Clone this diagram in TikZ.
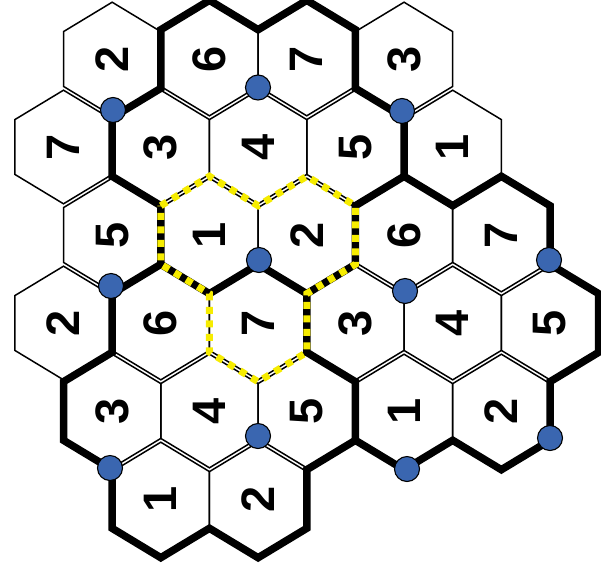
\documentclass[tikz,border=0pt]{standalone}
\usepackage{fontspec}
\setmainfont{Liberation Sans}
\usetikzlibrary{calc}
\definecolor{dotblue}{RGB}{58,102,176}
\definecolor{hlyellow}{RGB}{246,236,0}
\begin{document}
\begin{tikzpicture}[x=1pt,y=-1pt,
  hexline/.style={line width=1.5pt, black, line join=miter},
  boundary/.style={line width=7.5pt, black, line join=miter, miter limit=2},
  highlight/.style={line width=7pt, hlyellow, dash pattern=on 7pt off 6.5pt},
  digit/.style={font=\fontsize{47}{47}\selectfont\bfseries, rotate=90, inner sep=0pt},
  vdot/.style={circle, minimum size=25pt, inner sep=0pt, fill=dotblue, draw=black, line width=1.1pt}]
\fill[white] (0,0) rectangle (601,579);
\useasboundingbox (0,0) rectangle (601,579);
\clip (0,0) rectangle (601,579);
% lattice vertices
\foreach \k in {0,...,12} {
  \foreach \j in {0,...,13} {
    \pgfmathsetmacro\vx{14.85+48.65*\k}
    \pgfmathsetmacro\vy{isodd(\j) ? 44*\j-14.3 : 0.3+44*\j}
    \coordinate (v\k-\j) at (\vx,\vy);
  }
}
% hexagons with digits
\foreach \k/\r/\t in {2/1/2, 4/1/6, 6/1/7, 8/1/3,
                      1/2/7, 3/2/3, 5/2/4, 7/2/5, 9/2/1,
                      2/3/5, 4/3/1, 6/3/2, 8/3/6, 10/3/7,
                      1/4/2, 3/4/6, 5/4/7, 7/4/3, 9/4/4, 11/4/5,
                      2/5/3, 4/5/4, 6/5/5, 8/5/1, 10/5/2,
                      3/6/1, 5/6/2} {
  \pgfmathsetmacro\cx{14.85+48.65*\k}
  \pgfmathsetmacro\cy{59+88*(\r-1)}
  \node[digit] (h\r-\k) at (\cx,\cy) {\t};
  \draw[hexline] (h\r-\k.center) +(0,-56.8) -- +(48.65,-27.4) -- +(48.65,27.4)
     -- +(0,56.8) -- +(-48.65,27.4) -- +(-48.65,-27.4) -- cycle;
}
% thick boundaries
\draw[boundary] (v3-6) -- (v3-5) -- (v2-4) -- (v2-3) -- (v3-2) -- (v3-1) -- (v4-0)
  -- (v5-1) -- (v6-0) -- (v7-1) -- (v7-2) -- (v8-3) -- (v8-4) -- (v9-5) -- (v10-4)
  -- (v11-5) -- (v11-6) -- (v12-7) -- (v12-8) -- (v11-9) -- (v11-10) -- (v10-11)
  -- (v9-10) -- (v8-11) -- (v7-10) -- (v6-11) -- (v6-12) -- (v5-13) -- (v4-12)
  -- (v3-13) -- (v2-12) -- (v2-11) -- (v1-10) -- (v1-9) -- (v2-8) -- (v2-7) -- cycle;
\draw[boundary] (v3-6) -- (v4-7) -- (v5-6) -- (v6-7) -- (v7-6) -- (v7-5) -- (v8-4);
\draw[boundary] (v6-7) -- (v6-8) -- (v7-9) -- (v7-10);
% yellow highlight
\draw[highlight] (v3-5) -- (v4-4) -- (v5-5) -- (v6-4) -- (v7-5) -- (v7-6) -- (v6-7)
  -- (v6-8) -- (v5-9) -- (v4-8) -- (v4-7) -- (v3-6) -- cycle;
% blue dots
\node[vdot] (d1) at (113,110) {};
\node[vdot] (d2) at (258,87.5) {};
\node[vdot] (d3) at (402,111) {};
\node[vdot] (d4) at (111,286) {};
\node[vdot] (d5) at (259,260) {};
\node[vdot] (d6) at (405,291) {};
\node[vdot] (d7) at (549,260) {};
\node[vdot] (d8) at (258,436) {};
\node[vdot] (d9) at (110,468) {};
\node[vdot] (d10) at (407,469) {};
\node[vdot] (d11) at (550,438) {};
\end{tikzpicture}
\end{document}
